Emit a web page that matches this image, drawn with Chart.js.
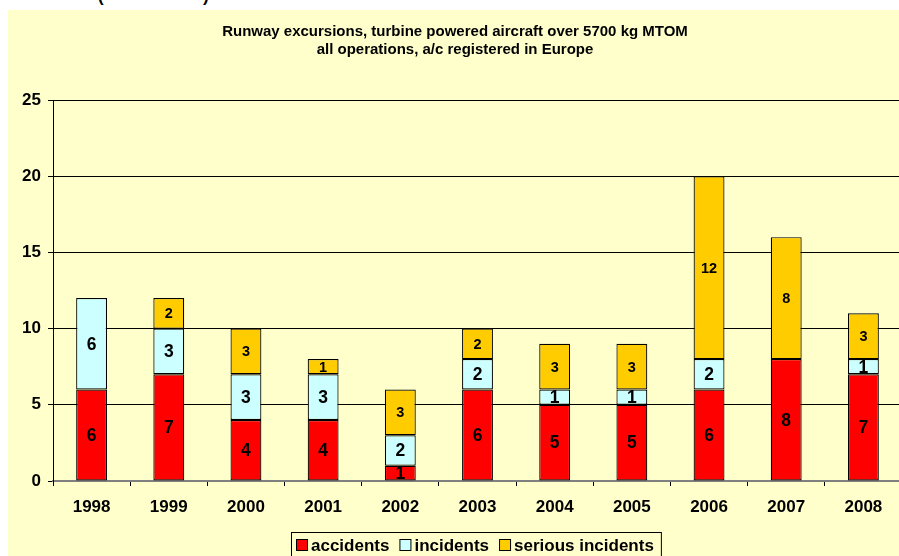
<!DOCTYPE html>
<html>
<head>
<meta charset="utf-8">
<script src="https://cdn.jsdelivr.net/npm/chart.js@4"></script>
<style>
  html, body { margin: 0; padding: 0; background: #fff; overflow: hidden; width: 899px; height: 556px; }
  #wrap { position: absolute; left: 8px; top: 10px; width: 900px; height: 546px; background: #FFFFCC; }
  #cut { position: absolute; top: -13px; left: 0; font: bold 17px "Liberation Sans", Arial, sans-serif; color: #000; }
  #cut span { position: absolute; }
</style>
</head>
<body>
<div id="cut"><span style="left:98px">(</span><span style="left:203px">)</span></div>
<div id="wrap"><canvas id="runway" width="900" height="546"></canvas></div>
<script>
const years = ['1998', '1999', '2000', '2001', '2002', '2003', '2004', '2005', '2006', '2007', '2008']
const accidents = [6, 7, 4, 4, 1, 6, 5, 5, 6, 8, 7]
const incidents = [6, 3, 3, 3, 2, 2, 1, 1, 2, 0, 1]
const seriousIncidents = [0, 2, 3, 1, 3, 2, 3, 3, 12, 8, 3]
const yTicks = [0, 5, 10, 15, 20, 25]

const fontFam = '"Liberation Sans", Arial, sans-serif'

// numbers in the middle of each stacked piece
const barLabels = {
    id: 'barLabels',
    afterDatasetsDraw(chart) {
        const ctx = chart.ctx
        ctx.save()
        ctx.textAlign = 'center'
        ctx.textBaseline = 'middle'
        ctx.fillStyle = '#000'
        chart.data.datasets.forEach((ds, i) => {
            const meta = chart.getDatasetMeta(i)
            ctx.font = (i == 2 ? 'bold 14.5px ' : 'bold 17.5px ') + fontFam
            meta.data.forEach((bar, j) => {
                if (!ds.data[j]) return
                ctx.fillText(ds.data[j], bar.x, (bar.y + bar.base) / 2 + 1)
            })
        })
        ctx.restore()
    }
}

// legend with a frame, like the spreadsheet one
const boxLegend = {
    id: 'boxLegend',
    afterDraw(chart) {
        const ctx = chart.ctx
        ctx.save()
        ctx.font = 'bold 17px ' + fontFam
        ctx.textBaseline = 'middle'
        const items = chart.data.datasets.map(ds => ({ label: ds.label, color: ds.backgroundColor, w: ctx.measureText(ds.label).width }))
        const box = 12, gap = 3, space = 10
        let total = 0
        items.forEach(it => total += box + gap + it.w)
        total += space * (items.length - 1)
        const frameW = total + 12
        const left = 283
        const top = 522
        ctx.strokeStyle = '#000'
        ctx.lineWidth = 1
        ctx.strokeRect(left + 0.5, top + 0.5, frameW, 30)
        let x = left + 5
        const cy = top + 13
        items.forEach(it => {
            ctx.fillStyle = it.color
            ctx.fillRect(x, cy - 6, box, box)
            ctx.strokeRect(x + 0.5, cy - 5.5, box - 1, box - 1)
            ctx.fillStyle = '#000'
            ctx.fillText(it.label, x + box + gap, cy + 1)
            x += box + gap + it.w + space
        })
        ctx.restore()
    }
}

const runwayChart = new Chart(document.getElementById('runway').getContext('2d'), {
    type: 'bar',
    data: {
        labels: years,
        datasets: [
            { label: 'accidents', data: accidents, backgroundColor: '#FF0000' },
            { label: 'incidents', data: incidents, backgroundColor: '#CCFFFF' },
            { label: 'serious incidents', data: seriousIncidents, backgroundColor: '#FFCC00' }
        ].map(ds => Object.assign(ds, {
            borderColor: '#000', borderWidth: 1.2, borderSkipped: false,
            barPercentage: 0.4, categoryPercentage: 1
        }))
    },
    options: {
        responsive: false,
        animation: false,
        layout: { padding: { top: 0, left: 0, right: 6, bottom: 40 } },
        plugins: {
            legend: { display: false },
            tooltip: { enabled: false },
            title: {
                display: true,
                text: ['Runway excursions, turbine powered aircraft over 5700 kg MTOM', 'all operations, a/c registered in Europe'],
                color: '#000',
                font: { family: fontFam, size: 15, weight: 'bold', lineHeight: 1.2 },
                padding: { top: 13, bottom: 41 }
            }
        },
        scales: {
            x: {
                stacked: true,
                offset: true,
                grid: { offset: true, drawOnChartArea: false, drawTicks: true, tickLength: 5, color: '#000' },
                border: { color: '#808080', width: 2 },
                ticks: { color: '#000', padding: 11, font: { family: fontFam, size: 17, weight: 'bold' } },
                afterFit: s => { s.height = 35 }
            },
            y: {
                stacked: true,
                min: 0,
                max: 25,
                afterBuildTicks: s => { s.ticks = yTicks.map(v => ({ value: v })) },
                grid: { color: '#000', lineWidth: 1, tickLength: 5 },
                border: { color: '#000', width: 1 },
                ticks: { color: '#000', padding: 7, font: { family: fontFam, size: 17, weight: 'bold' } },
                afterFit: s => { s.width = 45 }
            }
        }
    },
    plugins: [barLabels, boxLegend]
})
</script>
</body>
</html>
